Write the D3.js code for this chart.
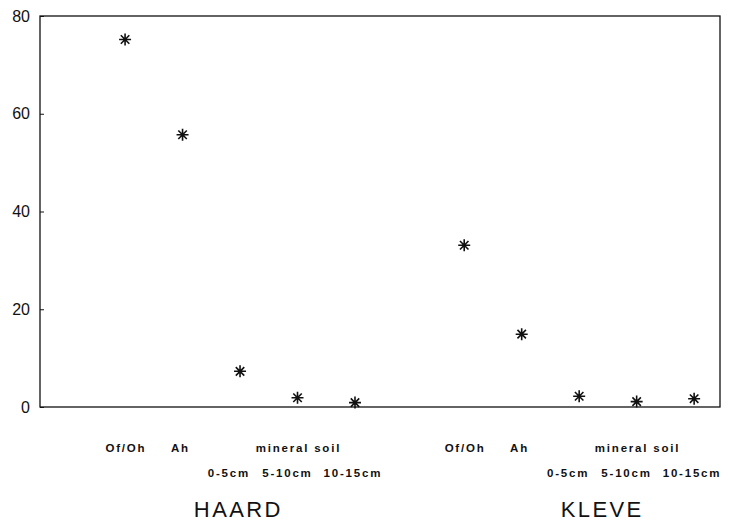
<!DOCTYPE html>
<html>
<head>
<meta charset="utf-8">
<script src="https://cdn.jsdelivr.net/npm/d3@7"></script>
<style>
body { margin: 0; background: #fff; }
text { font-family: "Liberation Sans", Arial, sans-serif; fill: #111; }
</style>
</head>
<body>
<script>
// data
var sites = ["HAARD", "KLEVE"]
var siteOffsets = [0, 5.9]
var horizons = ["Of/Oh", "Ah", "0-5cm", "5-10cm", "10-15cm"]
var haardValues = [75.2, 55.7, 7.3, 1.9, 0.9]
var kleveValues = [33.1, 14.9, 2.2, 1.1, 1.7]
var yTicks = [0, 20, 40, 60, 80]

var width = 730, height = 521
var margin = { top: 16, right: 10, bottom: 114, left: 40 }

// label nudges (px) and title position per site
var row2Shift = [-12, -11, -3]
var titlePos = [1.95, 2.38]

var svg = d3.select("body").append("svg")
	.attr("width", width)
	.attr("height", height)

var x = d3.scaleLinear()
	.domain([-1.48, 10.35])
	.range([margin.left, width - margin.right])

var y = d3.scaleLinear()
	.domain([0, 80])
	.range([height - margin.bottom, margin.top])

// frame
svg.append("rect")
	.attr("x", x.range()[0])
	.attr("y", y(80))
	.attr("width", x.range()[1] - x.range()[0])
	.attr("height", y(0) - y(80))
	.attr("fill", "none")
	.attr("stroke", "#111")
	.attr("stroke-width", 1.3)

// y axis, ticks pointing inward
var yAxis = svg.append("g")
	.attr("transform", "translate(" + margin.left + ",0)")
	.call(d3.axisLeft(y).tickValues(yTicks).tickSize(-4).tickPadding(10))
yAxis.select(".domain").remove()
yAxis.selectAll("text")
	.attr("font-size", 16)
	.attr("font-family", "Liberation Sans, Arial, sans-serif")
yAxis.selectAll("line").attr("stroke", "#111")

// asterisk marker
function star(r)
{
	var p = d3.path()
	for (var k = 0; k < 4; k++) {
		var a = k * Math.PI / 4
		p.moveTo(-r * Math.cos(a), -r * Math.sin(a))
		p.lineTo(r * Math.cos(a), r * Math.sin(a))
	}
	return p.toString()
}

function label(g, xpos, ypos, txt)
{
	g.append("text").attr("x", xpos + 0.9).attr("y", ypos)
		.attr("text-anchor", "middle").attr("font-size", 11.5).attr("font-weight", "bold")
		.attr("letter-spacing", 1.8)
		.text(txt)
}

var series = [haardValues, kleveValues]
series.forEach(function(vals, s) {
	var g = svg.append("g")
	g.selectAll("path.pt")
		.data(vals)
		.enter()
		.append("path")
		.attr("class", "pt")
		.attr("d", star(6))
		.attr("transform", function(d, i) {
			return "translate(" + x(siteOffsets[s] + i) + "," + y(d) + ")"
		})
		.attr("stroke", "#111")
		.attr("stroke-width", 1.6)
		.attr("fill", "none")

	var off = siteOffsets[s]
	var base = y(0)
	label(g, x(off), base + 45, horizons[0])
	label(g, x(off + 1) - 3, base + 45, horizons[1])
	label(g, x(off + 3), base + 45, "mineral soil")
	for (var i = 2; i < 5; i++)
		label(g, x(off + i) + row2Shift[i - 2], base + 70, horizons[i])

	g.append("text").attr("x", x(off + titlePos[s]) + 1.2).attr("y", base + 110)
		.attr("text-anchor", "middle").attr("font-size", 22)
		.attr("letter-spacing", 2.4)
		.text(sites[s])
})
</script>
</body>
</html>
